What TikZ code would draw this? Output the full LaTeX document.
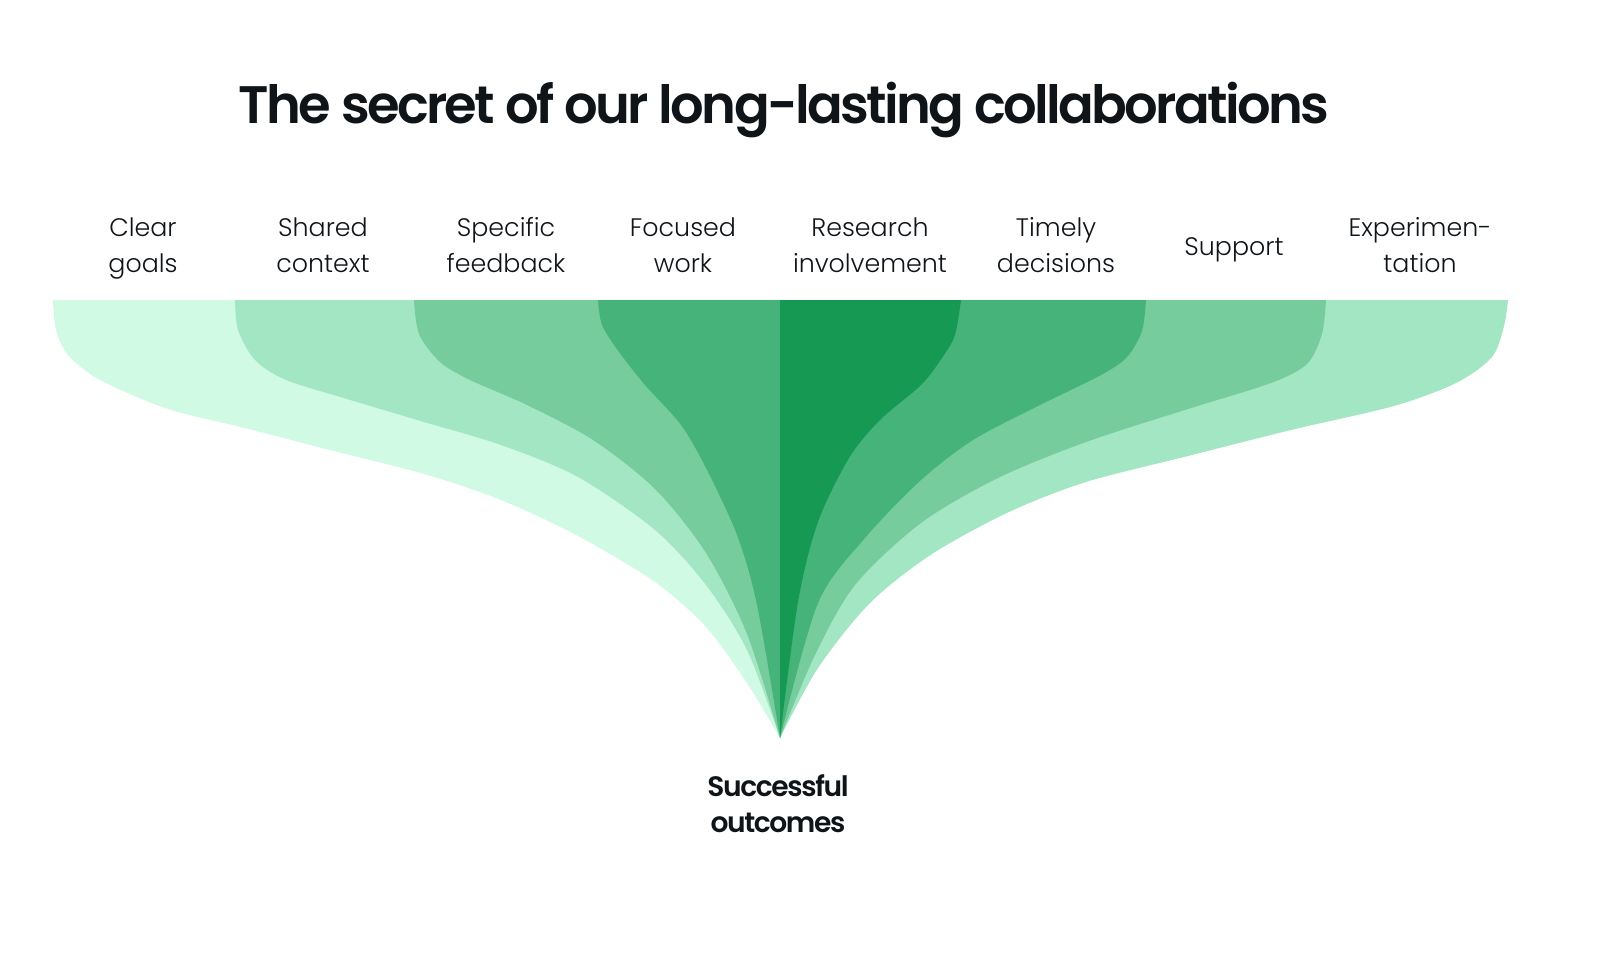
\documentclass[tikz,border=0pt]{standalone}
\usepackage{fontspec}
\setmainfont{Poppins}
\newfontfamily\titlefont{Poppins SemiBold}[LetterSpace=-5]
\newfontfamily\labelfont{Poppins Light}
\usepackage{tikz}
\usepackage{xcolor}
\definecolor{mint1}{HTML}{D1FAE5}
\definecolor{mint2}{HTML}{A3E6C3}
\definecolor{mint3}{HTML}{77CC9D}
\definecolor{mint4}{HTML}{46B47A}
\definecolor{mint5}{HTML}{169A53}
\definecolor{ink}{HTML}{0F1419}

\begin{document}
\begin{tikzpicture}[x=0.01cm,y=-0.01cm,
        lbl/.style={align=center,inner sep=0pt,anchor=base,text=ink,font=\labelfont\fontsize{7.2}{9.96}\selectfont},
        outcome/.style={align=center,inner sep=0pt,anchor=base,text=ink,font=\titlefont\fontsize{8}{9.96}\selectfont}]
                \useasboundingbox (0,0) rectangle (1600,976);
                \coordinate (tip) at (780,738);
                % left half of the funnel
                \fill[mint1] plot[smooth] coordinates {(53,300) (56,330) (68,355) (100,380) (168,409) (245,428) (322,448) (424,474) (501,500) (578,536) (655,582) (706,627) (747,683) (tip)} -- (780,300) -- cycle;
                \fill[mint2] plot[smooth] coordinates {(235,300) (238,330) (255,360) (286,380) (347,399) (424,422) (501,445) (578,477) (655,530) (706,585) (747,650) (tip)} -- (780,300) -- cycle;
                \fill[mint3] plot[smooth] coordinates {(414,300) (419,334) (440,362) (470,380) (527,405) (593,440) (655,489) (706,553) (747,634) (tip)} -- (780,300) -- cycle;
                \fill[mint4] plot[smooth] coordinates {(598,300) (602,325) (619,352) (645,385) (681,425) (706,468) (737,535) (757,605) (tip)} -- (780,300) -- cycle;
                % right half of the funnel
                \fill[mint2] (780,300) -- plot[smooth] coordinates {(1508,300) (1504,326) (1492,357) (1456,383) (1394,406) (1291,430) (1188,456) (1086,482) (1009,512) (932,554) (870,603) (818,668) (tip)} -- cycle;
                \fill[mint3] (780,300) -- plot[smooth] coordinates {(1326,300) (1322,334) (1307,364) (1271,383) (1188,409) (1086,442) (998,478) (921,523) (855,585) (815,655) (tip)} -- cycle;
                \fill[mint4] (780,300) -- plot[smooth] coordinates {(1146,300) (1142,331) (1127,357) (1101,375) (1034,408) (973,440) (921,480) (865,538) (818,603) (tip)} -- cycle;
                \fill[mint5] (780,300) -- plot[smooth] coordinates {(961,300) (955,335) (942,358) (921,385) (880,420) (849,458) (818,522) (798,602) (tip)} -- cycle;
                % title and labels
                \node[text=ink,font=\titlefont\fontsize{15}{18}\selectfont] (title) at (784,110) {The secret of our long-lasting collaborations};
                \node[lbl] (goals) at (143,272) {Clear\\goals};
                \node[lbl] (context) at (323,272) {Shared\\context};
                \node[lbl] (feedback) at (506,272) {Specific\\feedback};
                \node[lbl] (work) at (683,272) {Focused\\work};
                \node[lbl] (research) at (870,272) {Research\\involvement};
                \node[lbl] (decisions) at (1056,272) {Timely\\decisions};
                \node[lbl] (support) at (1234,255) {Support};
                \node[lbl] (experiment) at (1420,272) {Experimen-\\tation};
                \node[outcome] (outcomes) at (778,832) {Successful\\outcomes};
            \end{tikzpicture}
\end{document}
